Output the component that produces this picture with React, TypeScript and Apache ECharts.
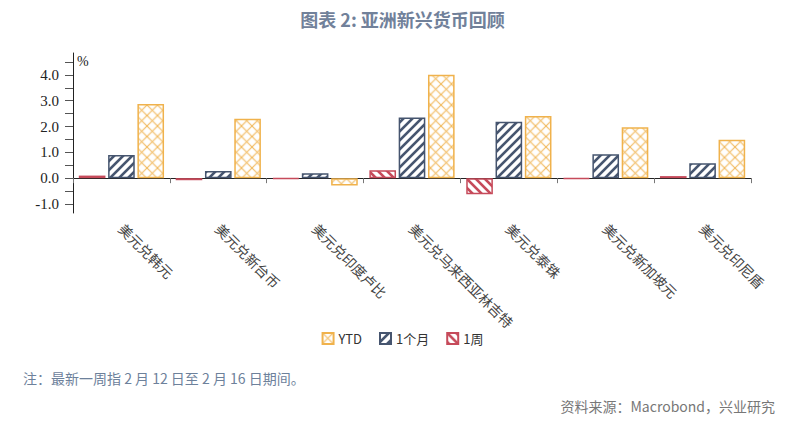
import React, { useEffect, useRef } from "react";
import * as echarts from "echarts";

const categories = [
  "美元兑韩元",
  "美元兑新台币",
  "美元兑印度卢比",
  "美元兑马来西亚林吉特",
  "美元兑泰铢",
  "美元兑新加坡元",
  "美元兑印尼盾",
];
const weekValues = [0.1, -0.08, -0.03, 0.31, -0.62, -0.03, 0.08];
const monthValues = [0.9, 0.28, 0.19, 2.35, 2.19, 0.93, 0.58];
const ytdValues = [2.87, 2.3, -0.28, 4.01, 2.41, 1.97, 1.49];
const yLabelValues = [-1, 0, 1, 2, 3, 4];
const yTickValues = [-1, -0.5, 0, 0.5, 1, 1.5, 2, 2.5, 3, 3.5, 4, 4.5];
const legendOrder = ["YTD", "1个月", "1周"];
const titleText = "图表 2: 亚洲新兴货币回顾";
const noteText = "注：最新一周指 2 月 12 日至 2 月 16 日期间。";
const sourceText = "资料来源：Macrobond，兴业研究";

const NAVY = "#46556f";
const ORANGE = "#f0b24c";
const RED = "#c64a5a";

function makePattern(kind: "fwd" | "back" | "cross", color: string, size: number, lw: number) {
  const scale = 4;
  const c = document.createElement("canvas");
  c.width = size * scale;
  c.height = size * scale;
  const ctx = c.getContext("2d")!;
  ctx.scale(scale, scale);
  ctx.fillStyle = "#ffffff";
  ctx.fillRect(0, 0, size, size);
  ctx.strokeStyle = color;
  ctx.lineWidth = lw;
  const s = size;
  const line = (x1: number, y1: number, x2: number, y2: number) => {
    ctx.beginPath();
    ctx.moveTo(x1, y1);
    ctx.lineTo(x2, y2);
    ctx.stroke();
  };
  if (kind === "fwd" || kind === "cross") {
    line(-s / 2, s * 1.5, s * 1.5, -s / 2);
    line(-s / 2, s / 2, s / 2, -s / 2);
    line(s / 2, s * 1.5, s * 1.5, s / 2);
  }
  if (kind === "back" || kind === "cross") {
    line(-s / 2, -s / 2, s * 1.5, s * 1.5);
    line(s / 2, -s / 2, s * 1.5, s / 2);
    line(-s / 2, s / 2, s / 2, s * 1.5);
  }
  return { image: c, repeat: "repeat", imageWidth: s, imageHeight: s } as any;
}

export default function App() {
  const ref = useRef<HTMLDivElement>(null);
  useEffect(() => {
    document.body.style.margin = "0";
    const chart = echarts.init(ref.current!, null, { renderer: "svg" });
    const monthPat = makePattern("fwd", NAVY, 9, 2.6);
    const weekPat = makePattern("back", RED, 9, 2.6);
    const ytdPat = makePattern("cross", ORANGE, 10.5, 1);
    chart.setOption({
      animation: false,
      backgroundColor: "#ffffff",
      title: {
        text: titleText,
        left: "center",
        top: 5,
        textStyle: {
          fontFamily: "Noto Sans CJK SC",
          fontSize: 18,
          fontWeight: "bold",
          color: "#71819a",
        },
      },
      legend: {
        data: legendOrder,
        top: 327,
        left: "center",
        itemWidth: 11,
        itemHeight: 11,
        itemGap: 17,
        icon: "rect",
        textStyle: { fontFamily: "Noto Sans CJK SC", fontSize: 13, color: "#333" },
      },
      grid: { left: 73, right: 54, top: 53, bottom: 213, containLabel: false },
      xAxis: {
        type: "category",
        data: categories,
        axisLine: { show: true, lineStyle: { color: "#222", width: 1 } },
        axisTick: { show: true, alignWithLabel: false, length: 5, lineStyle: { color: "#777" } },
        axisLabel: {
          interval: 0,
          rotate: -45,
          margin: 13,
          fontFamily: "Noto Sans CJK SC",
          fontSize: 14,
          color: "#444",
        },
      },
      yAxis: {
        type: "value",
        min: -1.35,
        max: 4.85,
        splitLine: { show: false },
        axisLine: { show: true, lineStyle: { color: "#222", width: 1 } },
        axisTick: {
          show: true,
          customValues: yTickValues,
          length: 8,
          lineStyle: { color: "#555" },
        },
        axisLabel: {
          customValues: yLabelValues,
          margin: 14,
          formatter: (v: number) => v.toFixed(1),
          fontFamily: "Liberation Serif",
          fontSize: 15,
          color: "#222",
        },
      },
      graphic: [
        {
          type: "text",
          left: 77,
          top: 54,
          style: { text: "%", fontFamily: "Liberation Serif", fontSize: 14, fill: "#222" },
        },
        {
          type: "text",
          left: 23,
          top: 371,
          style: { text: noteText, fontFamily: "Noto Sans CJK SC", fontSize: 14, fill: "#6d819b" },
        },
        {
          type: "text",
          right: 30,
          top: 399,
          style: { text: sourceText, fontFamily: "Noto Sans CJK SC", fontSize: 14, fill: "#777" },
        },
      ],
      series: [
        {
          name: "1周",
          type: "bar",
          data: weekValues,
          barGap: "10%",
          barCategoryGap: "12%",
          itemStyle: { color: weekPat, borderColor: RED, borderWidth: 1.5 },
        },
        {
          name: "1个月",
          type: "bar",
          data: monthValues,
          barGap: "10%",
          barCategoryGap: "12%",
          itemStyle: { color: monthPat, borderColor: NAVY, borderWidth: 1.5 },
        },
        {
          name: "YTD",
          type: "bar",
          data: ytdValues,
          barGap: "10%",
          barCategoryGap: "12%",
          itemStyle: { color: ytdPat, borderColor: ORANGE, borderWidth: 1.5 },
        },
      ],
    });
    return () => chart.dispose();
  }, []);
  return (
    <div
      ref={ref}
      style={{ position: "absolute", left: 0, top: 0, width: 805, height: 426 }}
    />
  );
}
